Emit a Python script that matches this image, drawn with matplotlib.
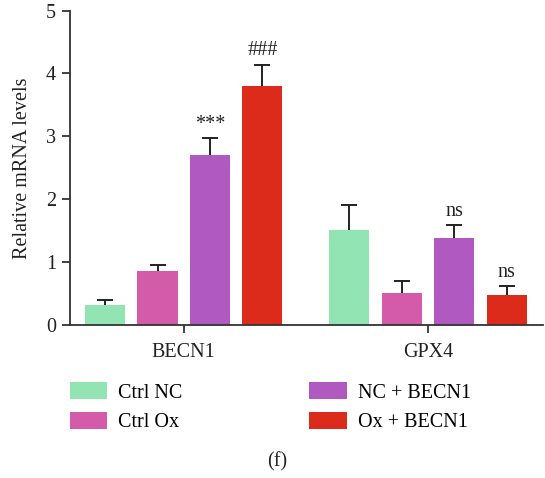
import matplotlib
matplotlib.use("Agg")
import matplotlib.pyplot as plt
import numpy as np
from matplotlib.patches import Patch

plt.rcParams['font.family'] = ['Liberation Serif', 'DejaVu Serif']

genes = ["BECN1", "GPX4"]
groups = ["Ctrl NC", "Ctrl Ox", "NC + BECN1", "Ox + BECN1"]
colors = ["#93E4B3", "#D35BAA", "#B05AC1", "#DC2B1A"]

means = {
    "Ctrl NC":    [0.32, 1.51],
    "Ctrl Ox":    [0.86, 0.51],
    "NC + BECN1": [2.70, 1.38],
    "Ox + BECN1": [3.80, 0.48],
}
errors = {
    "Ctrl NC":    [0.08, 0.40],
    "Ctrl Ox":    [0.09, 0.19],
    "NC + BECN1": [0.27, 0.21],
    "Ox + BECN1": [0.34, 0.14],
}
marks = {
    "NC + BECN1": ["***", "ns"],
    "Ox + BECN1": ["###", "ns"],
}

FS = 14.5
TXT = '#222222'

fig = plt.figure(figsize=(5.45, 4.78), dpi=100)
ax = fig.add_axes([0.128, 0.320, 0.868, 0.658])

x = np.arange(len(genes))
step = 0.215
width = 0.164
for i, g in enumerate(groups):
    xs = x + (i - 1.5) * step
    ax.bar(xs, means[g], width=width, color=colors[i], zorder=2)
    _, caps, _ = ax.errorbar(xs, means[g],
                             yerr=[np.zeros(len(genes)), errors[g]],
                             fmt='none', ecolor='#222222', elinewidth=1.4,
                             capsize=6, capthick=1.4, zorder=3)
    # only the upper cap is shown
    caps[0].set_visible(False)
    if g in marks:
        for j, txt in enumerate(marks[g]):
            top = means[g][j] + errors[g][j]
            ax.annotate(txt, (xs[j], top), xytext=(0, 3),
                        textcoords='offset points', ha='center', va='bottom',
                        fontsize=FS, color=TXT)

ax.set_xlim(-0.467, 1.471)
ax.set_ylim(0, 5)
ax.set_yticks(range(6))
ax.set_xticks(x)
ax.set_xticklabels(genes)
ax.set_ylabel("Relative mRNA levels", fontsize=FS, color=TXT, labelpad=10)
ax.tick_params(axis='both', labelsize=FS, colors=TXT, width=1.2)
ax.tick_params(axis='y', length=6, pad=4)
ax.tick_params(axis='x', length=6, pad=7)
for s in ['top', 'right']:
    ax.spines[s].set_visible(False)
for s in ['left', 'bottom']:
    ax.spines[s].set_linewidth(1.3)
    ax.spines[s].set_color('#333333')

handles = [Patch(facecolor=c, edgecolor='none') for c in colors]
fig.legend(handles, groups, ncol=2, loc='upper left',
           bbox_to_anchor=(0.128, 0.201), frameon=False, fontsize=FS,
           handlelength=1.85, handleheight=0.95, handletextpad=0.55,
           columnspacing=6.3, labelspacing=0.45, borderaxespad=0,
           borderpad=0)

fig.text(0.508, 0.034, "(f)", ha='center', va='center', fontsize=FS,
         color=TXT)

fig.savefig("out.png", dpi=100)
